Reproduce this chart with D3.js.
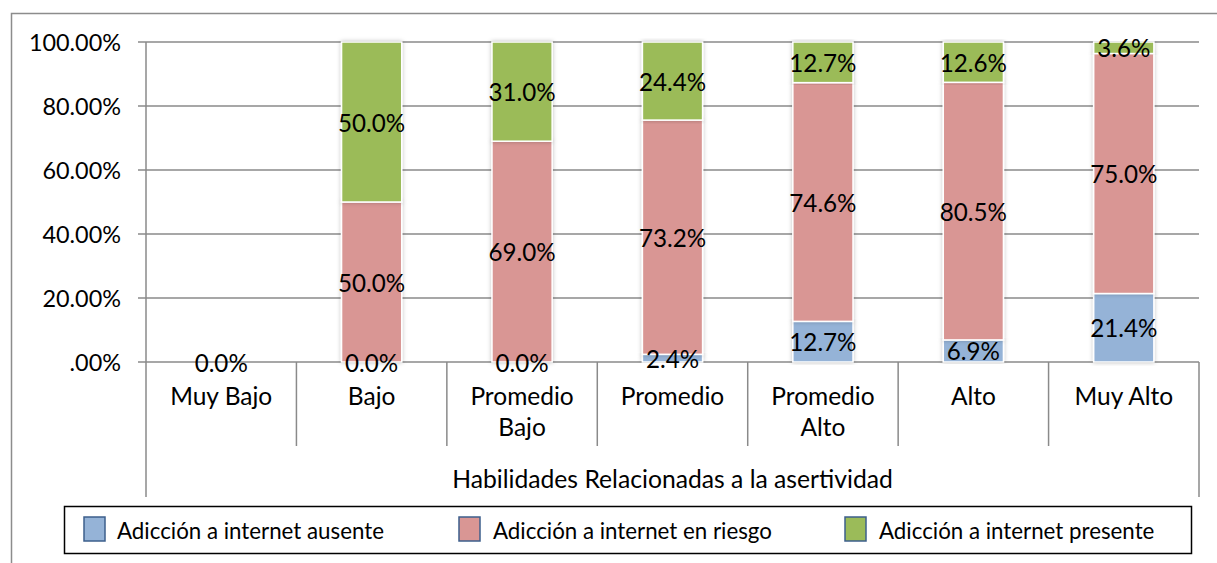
<!DOCTYPE html>
<html><head><meta charset="utf-8">
<script src="https://cdn.jsdelivr.net/npm/d3@7"></script>
<style>body{margin:0;background:#fff}svg{display:block}text{font-family:Lato,"Open Sans",sans-serif;fill:#000}</style>
</head><body>
<script>
const categories = [["Muy Bajo"],["Bajo"],["Promedio","Bajo"],["Promedio"],["Promedio","Alto"],["Alto"],["Muy Alto"]];
const seriesNames = ["Adicción a internet ausente","Adicción a internet en riesgo","Adicción a internet presente"];
const ausente  = [0.0, 0.0, 0.0, 2.4, 12.7, 6.9, 21.4];
const riesgo   = [null, 50.0, 69.0, 73.2, 74.6, 80.5, 75.0];
const presente = [null, 50.0, 31.0, 24.4, 12.7, 12.6, 3.6];
const yTicks = [0, 20, 40, 60, 80, 100];
const yTickLabels = [".00%", "20.00%", "40.00%", "60.00%", "80.00%", "100.00%"];
const axisTitle = "Habilidades Relacionadas a la asertividad";
const colors = ["#95B3D7", "#D99694", "#9BBB59"];

const W = 1217, H = 563;
const svg = d3.select("body").append("svg").attr("width", W).attr("height", H);
const defs = svg.append("defs");
const f = defs.append("filter").attr("id","sh").attr("x","-20%").attr("y","-5%").attr("width","140%").attr("height","110%");
f.append("feDropShadow").attr("dx",0).attr("dy",0).attr("stdDeviation",2).attr("flood-color","#000").attr("flood-opacity",0.25);

// outer chart border (cropped)
svg.append("path").attr("d", `M11.5,${H} V13.5 H${W}`).attr("fill","none").attr("stroke","#8c8c8c").attr("stroke-width",1.5);

const x = d3.scaleBand().domain(d3.range(categories.length)).range([146, 1199]).paddingInner(0).paddingOuter(0);
const y = d3.scaleLinear().domain([0, 100]).range([362, 42]);

// gridlines
svg.append("g").selectAll("line").data(yTicks).join("line")
  .attr("x1", 138).attr("x2", 1199).attr("y1", d => y(d)).attr("y2", d => y(d))
  .attr("stroke", "#8a8a8a").attr("stroke-width", 1.5);

// y axis line
svg.append("line").attr("x1",146).attr("x2",146).attr("y1",y(100)).attr("y2",497).attr("stroke","#8a8a8a").attr("stroke-width",1.5);
svg.append("line").attr("x1",1199).attr("x2",1199).attr("y1",y(0)).attr("y2",497).attr("stroke","#8a8a8a").attr("stroke-width",1.5);
// category separators
svg.append("g").selectAll("line").data(d3.range(1, categories.length)).join("line")
  .attr("x1", d => x(d)).attr("x2", d => x(d)).attr("y1", y(0)).attr("y2", 446)
  .attr("stroke", "#8a8a8a").attr("stroke-width", 1.5);

// y labels
svg.append("g").selectAll("text").data(yTicks).join("text")
  .attr("x", 121).attr("y", d => y(d) + 8.5).attr("text-anchor","end")
  .attr("font-size", 23.4).text((d,i) => yTickLabels[i]);

// stacked bars
const series = [ausente, riesgo, presente];
const bw = x.bandwidth() * 0.4;
const segs = [];
categories.forEach((c, i) => {
  let acc = 0;
  series.forEach((s, k) => {
    const v = s[i];
    if (v === null) return;
    segs.push({i, k, y0: acc, y1: acc + v, v});
    acc += v;
  });
});
const bars = svg.append("g");
bars.selectAll("rect").data(segs.filter(d => d.v > 0)).join("rect")
  .attr("x", d => x(d.i) + x.bandwidth()/2 - bw/2).attr("width", bw)
  .attr("y", d => y(d.y1)).attr("height", d => y(d.y0) - y(d.y1))
  .attr("fill", d => colors[d.k]).attr("stroke", "#fff").attr("stroke-width", 1.5)
  .attr("filter","url(#sh)");

// data labels
svg.append("g").selectAll("text").data(segs).join("text")
  .attr("x", d => x(d.i) + x.bandwidth()/2).attr("y", d => y((d.y0 + d.y1)/2) + 9.5)
  .attr("text-anchor","middle").attr("font-size", 24.2)
  .text(d => d.v.toFixed(1) + "%");

// category labels
const cl = svg.append("g").selectAll("text").data(categories).join("text")
  .attr("text-anchor","middle").attr("font-size", 24.5);
cl.each(function(lines, i){
  const t = d3.select(this);
  lines.forEach((ln, j) => t.append("tspan").attr("x", x(i) + x.bandwidth()/2).attr("y", 405 + j*31).text(ln));
});

// axis title
svg.append("text").attr("x", (146+1199)/2).attr("y", 488).attr("text-anchor","middle").attr("font-size", 24.7).text(axisTitle);

// legend
svg.append("rect").attr("x",64.5).attr("y",506.5).attr("width",1127).attr("height",47).attr("fill","#fff").attr("stroke","#000").attr("stroke-width",1.5);
const lx = [84, 459, 845];
const lg = svg.append("g").selectAll("g").data(seriesNames).join("g").attr("transform",(d,i)=>`translate(${lx[i]},517)`);
lg.append("rect").attr("width",21).attr("height",24).attr("fill",(d,i)=>colors[i]).attr("stroke","#3d5f8c").attr("stroke-width",1.5);
lg.append("text").attr("x",(d,i)=> i===0 ? 33 : 34).attr("y",22).attr("font-size",22.3).text(d=>d);
</script>
</body></html>
